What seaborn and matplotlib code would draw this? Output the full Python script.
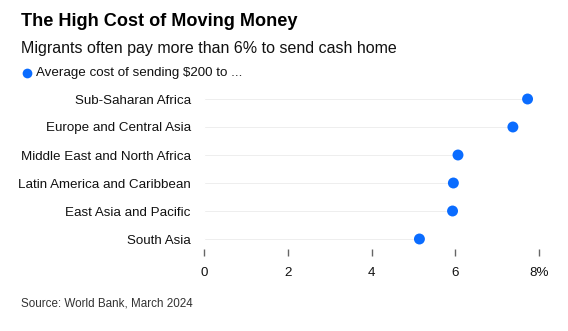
import matplotlib
matplotlib.use("Agg")
import matplotlib.pyplot as plt
from matplotlib.lines import Line2D
import seaborn as sns
import pandas as pd

# Remittance cost by destination region (percent of $200 sent)
regions = [
    "Sub-Saharan Africa",
    "Europe and Central Asia",
    "Middle East and North Africa",
    "Latin America and Caribbean",
    "East Asia and Pacific",
    "South Asia",
]
cost_pct = [7.72, 7.37, 6.06, 5.95, 5.93, 5.14]
x_ticks = [0, 2, 4, 6, 8]
x_tick_labels = ["0", "2", "4", "6", "8%"]

title = "The High Cost of Moving Money"
subtitle = "Migrants often pay more than 6% to send cash home"
legend_label = "Average cost of sending $200 to ..."
source = "Source: World Bank, March 2024"

BLUE = "#0a6cff"
GRID = "#e4e4e4"

df = pd.DataFrame({"region": regions, "cost": cost_pct})

sns.set_theme(style="white")
plt.rcParams["font.family"] = ["Liberation Sans", "DejaVu Sans"]

W, H = 568, 331
fig = plt.figure(figsize=(W / 100, H / 100), dpi=100)

# axes placed in pixel terms: x from 204 to 539, y from 85 to 256 (top-origin)
left_px, right_px, top_px, bot_px = 204, 539.3, 85, 256
ax = fig.add_axes([left_px / W, 1 - bot_px / H,
                   (right_px - left_px) / W, (bot_px - top_px) / H])

# thin gray stems from zero to each value
sns.barplot(data=df, x="cost", y="region", order=regions, color=GRID,
            width=0.1, saturation=1, ax=ax, zorder=1)
# dots at each value
sns.scatterplot(data=df, x="cost", y="region", color=BLUE, s=62,
                edgecolor="none", ax=ax, zorder=3, clip_on=False, legend=False)

ax.set_xlim(0, 8)
ax.set_ylim(5 + 17 / 28, -0.5)
ax.set_xticks(x_ticks)
ax.set_xticklabels(x_tick_labels)
ax.set_xlabel("")
ax.set_ylabel("")
for s in ax.spines.values():
    s.set_visible(False)
ax.grid(False)
ax.tick_params(axis="x", direction="in", length=5, width=1, color="#666666",
               pad=8, labelsize=9.6, labelcolor="#111111", bottom=True)
ax.tick_params(axis="y", length=0, pad=9.5, labelsize=9.6, labelcolor="#111111")

# headline text
fig.text(21 / W, 1 - 22 / H, title, fontsize=13.05, fontweight="bold",
         color="#000000", va="center", ha="left")
fig.text(21 / W, 1 - 49 / H, subtitle, fontsize=11.5, color="#111111",
         va="center", ha="left")
fig.add_artist(Line2D([26.5 / W], [1 - 73 / H], marker="o", markersize=7,
                      color=BLUE, markeredgewidth=0, linestyle="none",
                      transform=fig.transFigure))
fig.text(35.5 / W, 1 - 73 / H, legend_label, fontsize=9.6, color="#111111",
         va="center", ha="left")
fig.text(21 / W, 1 - 304 / H, source, fontsize=8.4, color="#333333",
         va="center", ha="left")

fig.savefig("out.png", dpi=100)
